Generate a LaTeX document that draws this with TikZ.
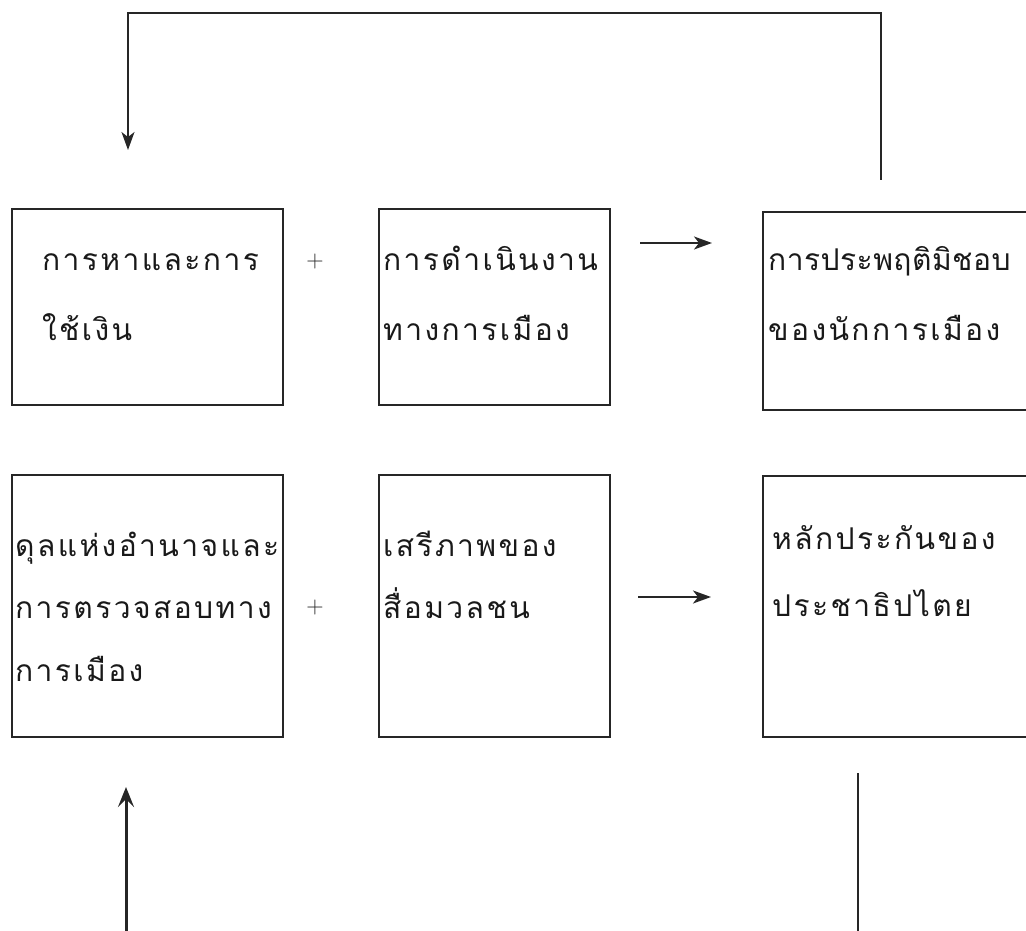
\documentclass[tikz,border=0pt]{standalone}
\usepackage{fontspec}
\newfontfamily\thai[Script=Thai,LetterSpace=8]{Loma}
\newfontfamily\thaic[Script=Thai,LetterSpace=1.5]{Loma}
\usetikzlibrary{arrows.meta}
\begin{document}
\begin{tikzpicture}[x=1pt,y=-1pt,
  box/.style={draw=black!85,line width=1.2pt,anchor=north west,inner sep=0pt,outer sep=0pt},
  txt/.style={anchor=base west,inner sep=0pt,font=\thai\fontsize{30}{36}\selectfont,text=black!90},
  txtc/.style={txt,font=\thaic\fontsize{30}{36}\selectfont},
  plus/.style={font=\fontsize{24}{26}\selectfont,text=black!85},
  conn/.style={draw=black!85,line width=1.2pt},
  arr/.style={conn,-{Stealth[length=18pt,width=13pt,inset=5pt]}}]
\useasboundingbox (0,0) rectangle (1026,931);
% boxes
\node[box,minimum width=271,minimum height=196] (b1) at (12,209) {};
\node[box,minimum width=231,minimum height=196] (b2) at (379,209) {};
\node[box,minimum width=280,minimum height=198] (b3) at (763,212) {};
\node[box,minimum width=271,minimum height=262] (b4) at (12,475) {};
\node[box,minimum width=231,minimum height=262] (b5) at (379,475) {};
\node[box,minimum width=280,minimum height=261] (b6) at (763,476) {};
% texts
\node[txt] (t1a) at (42,270) {การหาและการ};
\node[txt] (t1b) at (42,340) {ใช้เงิน};
\node[txt] (t2a) at (383,270) {การดำเนินงาน};
\node[txt] (t2b) at (383,340) {ทางการเมือง};
\node[txtc] (t3a) at (768,270) {การประพฤติมิชอบ};
\node[txt] (t3b) at (768,340) {ของนักการเมือง};
\node[txt] (t4a) at (15,556) {ดุลแห่งอำนาจและ};
\node[txt] (t4b) at (15,618) {การตรวจสอบทาง};
\node[txt] (t4c) at (15,681) {การเมือง};
\node[txt] (t5a) at (383,556) {เสรีภาพของ};
\node[txt] (t5b) at (383,618) {สื่อมวลชน};
\node[txt] (t6a) at (772,549) {หลักประกันของ};
\node[txt] (t6b) at (772,616) {ประชาธิปไตย};
% plus signs
\node[plus] (p1) at (315,262) {+};
\node[plus] (p2) at (315,608) {+};
% horizontal arrows
\coordinate (h1s) at (640,243);
\coordinate (h1e) at (712,243);
\coordinate (h2s) at (638,597);
\coordinate (h2e) at (711,597);
\draw[arr,line width=1.8pt] (h1s) -- (h1e);
\draw[arr,line width=1.8pt] (h2s) -- (h2e);
% feedback loop on top
\coordinate (fbA) at (881,180);
\coordinate (fbTop) at (0,13);
\coordinate (fbB) at (128,150);
\draw[arr] (fbA) -- (fbA |- fbTop) -| (fbB);
% bottom lines
\coordinate (upS) at (126,935);
\coordinate (upE) at (126,787);
\draw[conn,line width=3pt,-{Stealth[length=20pt,width=16pt,inset=8pt]}] (upS) -- (upE);
\coordinate (dnS) at (858,773);
\coordinate (dnE) at (858,935);
\draw[conn] (dnS) -- (dnE);
\end{tikzpicture}
\end{document}
